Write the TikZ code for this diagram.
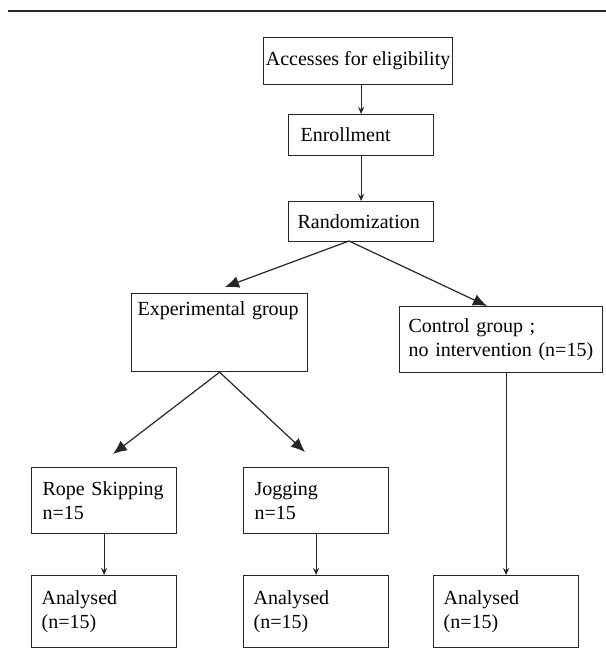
\documentclass[tikz,border=0pt]{standalone}
\usepackage{fontspec}
\setmainfont{Liberation Serif}
\usetikzlibrary{arrows.meta}

\tikzset{
    box/.style={draw=black!85, line width=0.6pt, anchor=north west, align=left, inner ysep=2pt, font=\fontsize{10}{12}\selectfont},
    down/.style={draw=black!85, line width=0.6pt, -{Stealth[length=3.5pt,width=3pt]}},
    split/.style={draw=black!85, line width=0.6pt, -{Latex[length=7pt,width=6pt]}}
}

\begin{document}
\begin{tikzpicture}[x=0.5pt,y=-0.5pt]
    \useasboundingbox (0,0) rectangle (606,660);
    \draw[line width=0.75pt, black!85] (8,11) -- (606,11);

    \coordinate (rsplit) at (349,241);
    \coordinate (exptip) at (225,287);
    \coordinate (ctltip) at (487,306);
    \coordinate (ropetip) at (113,454);
    \coordinate (jogtip) at (305,452);

    \node[box, inner xsep=0.5pt, minimum width=94.5pt, minimum height=23.5pt] (access) at (263,37) {Accesses for eligibility};
    \node[box, inner xsep=6pt, text width=60.5pt, minimum height=20.5pt] (enroll) at (288,114) {Enrollment};
    \node[box, inner xsep=4.5pt, text width=63.5pt, minimum height=20pt] (random) at (288,201) {Randomization};
    \node[box, inner xsep=3pt, text width=82pt, minimum height=39pt] (expgrp) at (131,293) {Experimental~group\\[8pt]\strut};
    \node[box, inner xsep=4.5pt, text width=92.5pt, minimum height=33pt] (control) at (399,306) {Control group ;\\no intervention (n=15)};
    \node[box, inner xsep=5.5pt, text width=61.5pt, minimum height=33pt] (rope) at (31,467) {Rope~Skipping\\n=15};
    \node[box, inner xsep=5.5pt, text width=61.5pt, minimum height=33pt] (jog) at (243,467) {Jogging\\n=15};
    \node[box, inner xsep=5pt, text width=62.5pt, minimum height=36pt] (ana1) at (31,575) {Analysed\\(n=15)};
    \node[box, inner xsep=5pt, text width=62.5pt, minimum height=36pt] (ana2) at (243,575) {Analysed\\(n=15)};
    \node[box, inner xsep=5pt, text width=62.5pt, minimum height=36pt] (ana3) at (433,575) {Analysed\\(n=15)};

    \draw[down] (enroll.north |- access.south) -- (enroll.north);
    \draw[down] (enroll.south) -- (random.north);
    \draw[split] (rsplit) -- (exptip);
    \draw[split] (rsplit) -- (ctltip);
    \draw[split] (expgrp.south) -- (ropetip);
    \draw[split] (expgrp.south) -- (jogtip);
    \draw[down] (rope.south) -- (ana1.north);
    \draw[down] (jog.south) -- (ana2.north);
    \draw[down] (ana3.north |- control.south) -- (ana3.north);
\end{tikzpicture}
\end{document}
